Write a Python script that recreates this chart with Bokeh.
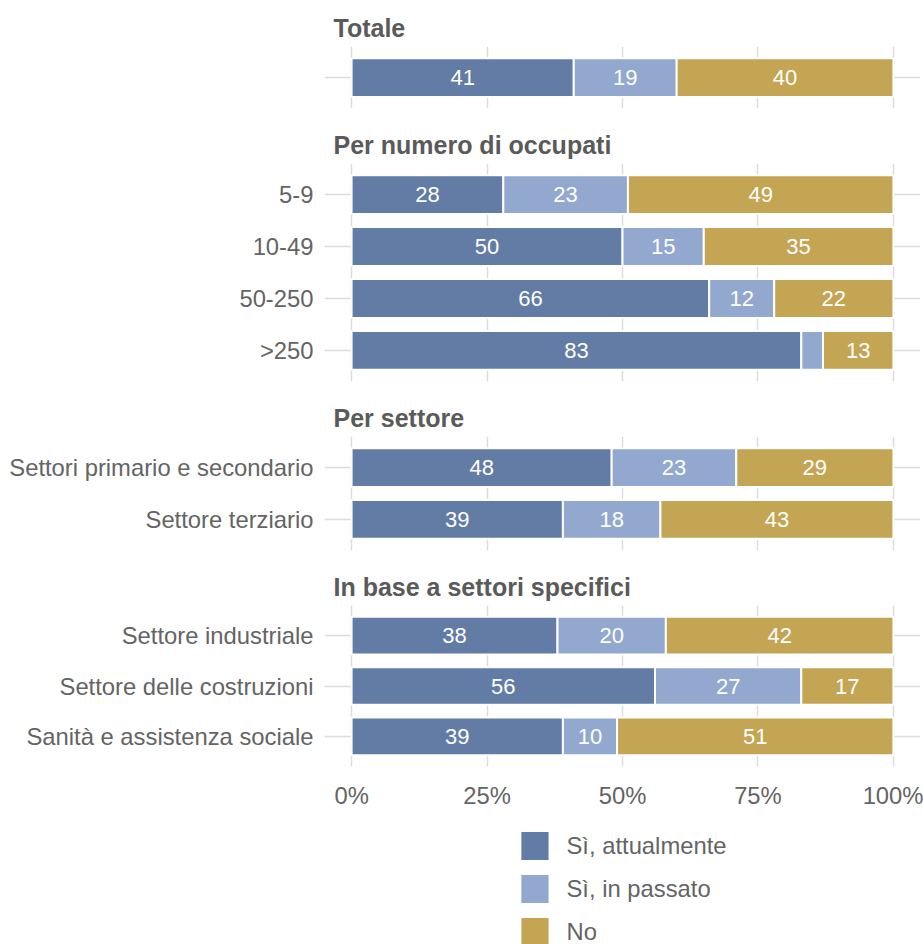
from bokeh.plotting import figure
from bokeh.models import Range1d, FixedTicker, ColumnDataSource, Legend
from bokeh.layouts import column
from bokeh.embed import file_html
from bokeh.resources import INLINE
from bokeh.core.properties import value

# ---------------- data ----------------
series = ["Sì, attualmente", "Sì, in passato", "No"]
colors = ["#627CA5", "#92A8CE", "#C4A553"]

panel_titles = ["Totale", "Per numero di occupati", "Per settore", "In base a settori specifici"]

cat_totale = [""]
cat_occupati = ["5-9", "10-49", "50-250", ">250"]
cat_settore = ["Settori primario e secondario", "Settore terziario"]
cat_specifici = ["Settore industriale", "Settore delle costruzioni", "Sanità e assistenza sociale"]

si_attualmente = [[41], [28, 50, 66, 83], [48, 39], [38, 56, 39]]
si_passato = [[19], [23, 15, 12, 4], [23, 18], [20, 27, 10]]
no = [[40], [49, 35, 22, 13], [29, 43], [42, 17, 51]]

x_ticks = [0, 25, 50, 75, 100]

categories = [cat_totale, cat_occupati, cat_settore, cat_specifici]
# -------------------------------------

FONT = "Liberation Sans"
TXT = "#646464"
GRID = "#DCDCDC"
STEP = 52  # px per category
LBL = "23.8px"

figs = []
for i, (title, cats) in enumerate(zip(panel_titles, categories)):
    n = len(cats)
    pos = list(range(1, n + 1))
    a, b, c = si_attualmente[i], si_passato[i], no[i]
    src = ColumnDataSource({"pos": pos, series[0]: a, series[1]: b, series[2]: c})
    last = i == len(categories) - 1
    fh = round((n + 0.2) * STEP)
    top_b, bot_b = 46, (40 if last else 9)
    p = figure(width=923, height=top_b + fh + bot_b,
               x_range=Range1d(-5, 105), y_range=Range1d(n + 0.6, 0.4),
               output_backend="svg", toolbar_location=None,
               min_border_left=324, min_border_right=3,
               min_border_top=top_b, min_border_bottom=bot_b)
    p.outline_line_color = None
    p.title.text = title
    p.title.align = "left"
    p.title.offset = 9
    p.title.standoff = 10
    p.title.text_font = FONT
    p.title.text_font_size = "25px"
    p.title.text_font_style = "bold"
    p.title.text_color = "#5a5a5a"

    p.hbar_stack(series, y="pos", height=0.75, color=colors, source=src,
                 line_color="white", line_width=2)

    # value labels
    xs, ys, labs = [], [], []
    for j in range(n):
        left = 0
        for v in (a[j], b[j], c[j]):
            if v >= 5:
                xs.append(left + v / 2)
                ys.append(pos[j])
                labs.append(str(v))
            left += v
    p.text(x=xs, y=ys, text=labs, text_color="white", text_font=value(FONT),
           text_font_size="22px", text_align="center", text_baseline="middle")

    p.yaxis.ticker = FixedTicker(ticks=pos)
    p.yaxis.major_label_overrides = {k: lab for k, lab in zip(pos, cats)}
    p.yaxis.axis_line_color = None
    p.yaxis.major_tick_line_color = None
    p.yaxis.minor_tick_line_color = None
    p.yaxis.major_label_standoff = 5
    p.yaxis.major_label_text_font = FONT
    p.yaxis.major_label_text_font_size = LBL
    p.yaxis.major_label_text_color = TXT

    p.xaxis.ticker = FixedTicker(ticks=x_ticks)
    p.xaxis.major_label_overrides = {t: f"{t}%" for t in x_ticks}
    p.xaxis.axis_line_color = None
    p.xaxis.major_tick_line_color = None
    p.xaxis.minor_tick_line_color = None
    p.xaxis.major_label_standoff = 9
    p.xaxis.major_label_text_font = FONT
    p.xaxis.major_label_text_font_size = LBL
    p.xaxis.major_label_text_color = TXT
    if not last:
        p.xaxis.visible = False

    p.xgrid.ticker = FixedTicker(ticks=x_ticks)
    p.ygrid.ticker = FixedTicker(ticks=pos)
    p.xgrid.grid_line_color = GRID
    p.ygrid.grid_line_color = GRID
    p.xgrid.grid_line_width = 1.5
    p.ygrid.grid_line_width = 1.5
    figs.append(p)

used = sum(f.height for f in figs)

# legend figure (proxy renderers lie outside its visible range)
lg = figure(width=923, height=944 - used, x_range=Range1d(0, 1), y_range=Range1d(10, 11),
            output_backend="svg", toolbar_location=None,
            min_border_left=308, min_border_right=3, min_border_top=0, min_border_bottom=0)
lg.outline_line_color = None
lg.axis.visible = False
lg.grid.visible = False
proxy = ColumnDataSource({"pos": [1], series[0]: si_attualmente[0],
                          series[1]: si_passato[0], series[2]: no[0]})
rends = lg.hbar_stack(series, y="pos", height=0.75, color=colors, source=proxy, line_color=None)
legend = Legend(items=[(s, [r]) for s, r in zip(series, rends)], location="top_center",
                orientation="vertical", border_line_color=None, background_fill_alpha=0,
                padding=0, margin=17, spacing=8, glyph_width=34, glyph_height=35,
                label_height=35, label_standoff=15, label_text_font=FONT,
                label_text_font_size=LBL, label_text_color=TXT)
lg.add_layout(legend, "center")
figs.append(lg)

layout = column(*figs, spacing=0)
open("out.html", "w").write(file_html(layout, INLINE))
